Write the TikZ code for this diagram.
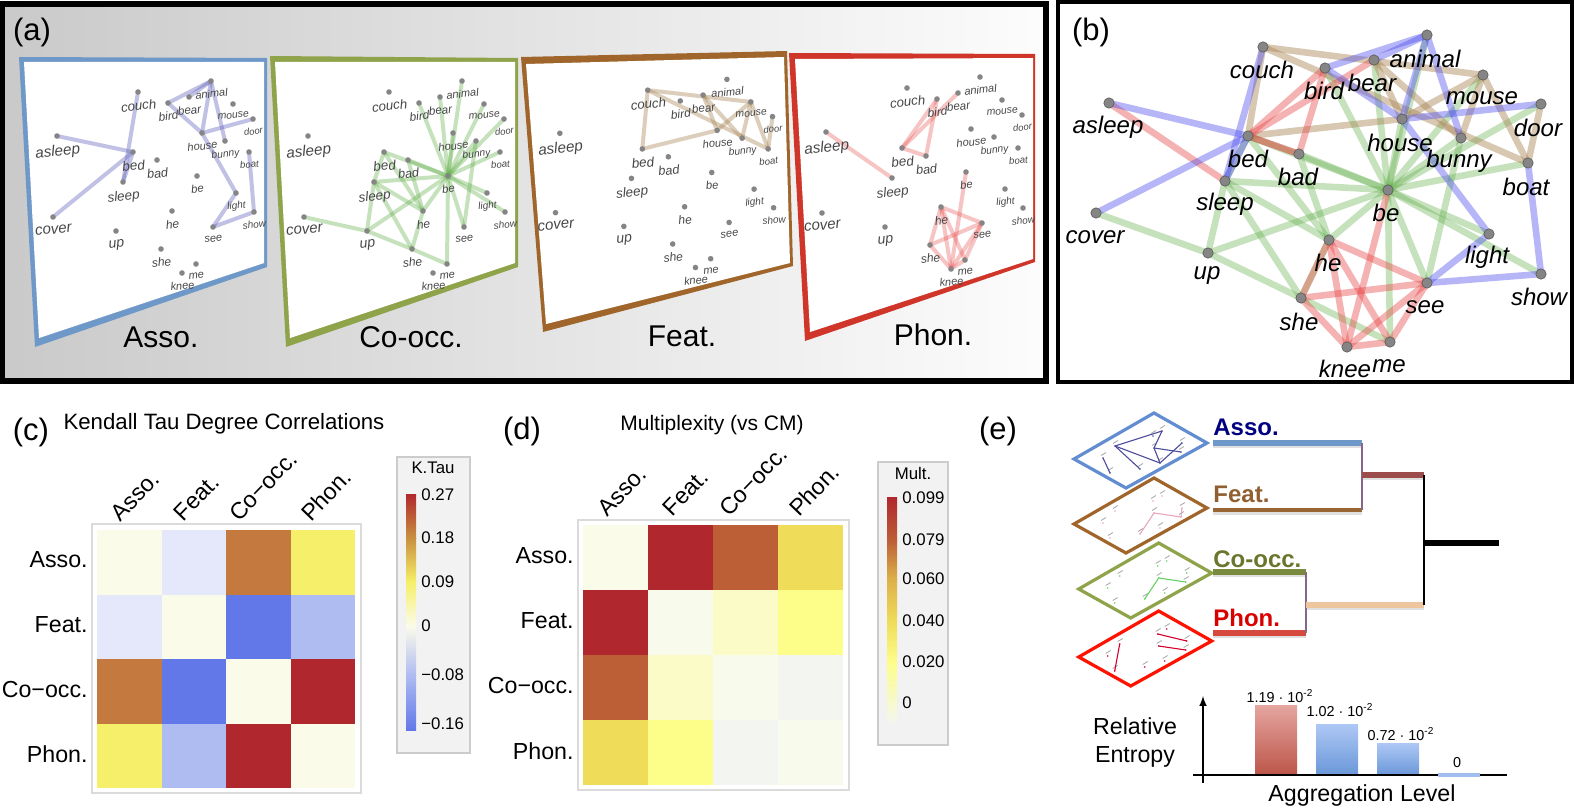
\documentclass[tikz,border=0pt]{standalone}
\usepackage{fontspec}
\setmainfont{Liberation Sans}
\usetikzlibrary{positioning}
\pgfdeclarelayer{panel}
\pgfdeclarelayer{edges}
\pgfsetlayers{panel,edges,main}

\definecolor{cdiag}{HTML}{FBFBEA}
\definecolor{cpale}{HTML}{E4E8FA}
\definecolor{corange}{HTML}{C47A3E}
\definecolor{cyellow}{HTML}{F6EF69}
\definecolor{cblue}{HTML}{6278E8}
\definecolor{csky}{HTML}{AFBCF2}
\definecolor{cred}{HTML}{B0272D}
\definecolor{mrust}{HTML}{BC5E36}
\definecolor{mgold}{HTML}{EFDC58}
\definecolor{mlemon}{HTML}{FDFD8A}
\definecolor{mcream}{HTML}{FBFBC8}
\definecolor{mgrey}{HTML}{F3F6F0}
\definecolor{mdiag}{HTML}{F8FAEC}
\definecolor{mamber}{HTML}{DDB04A}
\definecolor{lamber}{HTML}{C99040}
\definecolor{edgetan}{HTML}{A98656}
\definecolor{edgegreen}{HTML}{62B04A}
\definecolor{edgeblue}{HTML}{5050F0}
\definecolor{edgered}{HTML}{E84848}
\definecolor{edgeslate}{HTML}{6666BE}
\definecolor{framesky}{HTML}{6E98C8}
\definecolor{frameolive}{HTML}{8FA34A}
\definecolor{framebrown}{HTML}{A0652A}
\definecolor{framered}{HTML}{D0352A}
\definecolor{barrose}{HTML}{E5A5A0}
\definecolor{barbrick}{HTML}{BC5548}
\definecolor{barice}{HTML}{AEC8F5}
\definecolor{barsteel}{HTML}{6A97D8}

\tikzset{
  worddot/.style={circle,fill=black!48,inner sep=0pt,minimum size=2.8pt},
  wordtag/.style={text=black!72,inner sep=0pt,rotate=6},
  bigdot/.style={circle,fill=black!48,draw=black!65,line width=.3pt,inner sep=0pt,minimum size=5.2pt},
  bigtag/.style={font=\itshape\fontsize{12}{14}\selectfont,inner sep=0pt},
  assoedge/.style={line width=2pt,draw=edgeslate,opacity=.4},
  cooccedge/.style={line width=2pt,draw=edgegreen,opacity=.36},
  featedge/.style={line width=2pt,draw=edgetan,opacity=.4},
  phonedge/.style={line width=2pt,draw=edgered,opacity=.32},
  bigasso/.style={line width=3.3pt,draw=edgeblue,opacity=.42},
  bigcoocc/.style={line width=3.3pt,draw=edgegreen,opacity=.36},
  bigfeat/.style={line width=3.3pt,draw=edgetan,opacity=.45},
  bigphon/.style={line width=3.3pt,draw=edgered,opacity=.42},
  layername/.style={font=\fontsize{15}{17}\selectfont},
  panelmark/.style={font=\fontsize{15.5}{17}\selectfont},
  axisname/.style={font=\fontsize{11.6}{13}\selectfont},
  ticktag/.style={font=\fontsize{8.4}{10}\selectfont,anchor=west,inner sep=0pt},
  legendbox/.style={fill=black!5,draw=black!20,line width=.6pt},
  plotframe/.style={draw=black!14,line width=.8pt},
  treename/.style={font=\bfseries\fontsize{12}{13}\selectfont,anchor=west,inner sep=0pt},
  treeline/.style={line width=2.9pt},
  treejoin/.style={line width=1.1pt,draw=violet!45!black!60},
  treeshadow/.style={line width=2.6pt,draw=black!12},
  barnum/.style={font=\fontsize{7.2}{8}\selectfont,inner sep=0pt},
  miniword/.style={line width=.45pt,opacity=.45},
}

\newcommand{\assolist}{asleep/bed,cover/bed,couch/sleep,bed/sleep,bird/animal,bear/animal,animal/bunny,animal/house,bird/house,house/door,house/light,light/see,see/show,show/boat}
\newcommand{\featlist}{couch/bed,couch/mouse,couch/boat,bear/house,bear/bunny,mouse/house,mouse/bunny,mouse/boat,door/boat,bed/house}
\newcommand{\phonlist}{asleep/sleep,bed/bird,bed/bear,bird/bad,bed/bad,be/knee,he/see,he/she,he/knee,he/me,she/see,she/knee,see/knee,see/me,knee/me}
\newcommand{\coocclist}{cover/up,up/sleep,up/be,up/she,she/me,she/sleep,she/he,sleep/bed,sleep/be,sleep/he,bed/be,bed/he,bad/be,bad/he,he/be,be/bird,be/bear,be/animal,be/mouse,be/door,be/house,be/bunny,be/boat,be/light,be/show,be/see,be/me,see/bunny}

\newcommand{\wordlayer}[2]{
  \begin{scope}[#2]
    \foreach \w/\wx/\wy/\wf in {asleep/57/136/7.6,couch/138/92/6.6,bird/168/103/5.9,bear/189/97/5.8,animal/211/81/5.5,mouse/233/104/5.2,door/253/119/4.7,house/202/133/5.5,bunny/225/141/5.1,boat/249/152/4.8,bed/133/152/6.7,bad/157/160/6.3,sleep/123/182/6.7,be/197/176/5.6,cover/53/217/7.5,up/116/231/7,he/172/211/6,light/236/193/5,show/254/212/5,see/213/227/5.5,she/161/249/6,knee/182/273/5.5,me/196/264/5.5}{
      \node[worddot] (#1\w) at (\wx,\wy) {};
      \node[wordtag,font=\itshape\fontsize{\wf}{\wf}\selectfont,below=2.6pt of #1\w] (#1\w tag) {\w};
    }
  \end{scope}
}

\newcommand{\miniplate}[6]{
  \begin{scope}[shift={(#2,#3)}]
    \draw[#4,line width=1.6pt,line join=miter] (1154,413) -- (1207,443) -- (1126,488) -- (1074,459) -- cycle;
    \foreach \m/\mx/\my in {b/1115/446,c/1103/458,d/1110/473,e/1140/469,f/1160/463,g/1154/448,h/1182/443,i/1181/452,j/1153/436,a/1162/431}{
      \node[circle,fill=#5,inner sep=0pt,minimum size=.9pt] (#1\m) at (\mx,\my) {};
      \draw[miniword,draw=black!70] ([shift={(-2,-2.5)}]#1\m.center) -- ++(5,-3);
    }
    \foreach \p/\q in {#6}
      \draw[#5,line width=.55pt] (#1\p.center) -- (#1\q.center);
  \end{scope}
}

\begin{document}
\begin{tikzpicture}[x=.5pt,y=-.5pt]
  \useasboundingbox (0,0) rectangle (1575,808);

  \begin{pgfonlayer}{panel}
    \shade[left color=black!21,right color=black!1] (2,4) rectangle (1046,381);
    \fill[white] (1058,2) rectangle (1572,382);
    \fill[framesky] (19,57) -- (267,58) -- (267,267) -- (35,347) -- cycle;
    \fill[white] (24,62) -- (264,62) -- (264,263) -- (39,338) -- cycle;
    \fill[frameolive] (270,56) -- (518,58) -- (518,267) -- (286,347) -- cycle;
    \fill[white] (275,62) -- (515,62) -- (515,263) -- (290,338) -- cycle;
    \fill[framebrown] (521,57) -- (787,51) -- (793,266) -- (543,332) -- cycle;
    \fill[white] (526,64) -- (784,57) -- (790,263) -- (546,324) -- cycle;
    \fill[framered] (789,53) -- (1035,54) -- (1035,262) -- (805,341) -- cycle;
    \fill[white] (795,59) -- (1033,58) -- (1033,259) -- (810,332) -- cycle;
  \end{pgfonlayer}
  \draw[line width=2.6pt] (2,4) rectangle (1046,381);
  \draw[line width=2.2pt] (1058,2) rectangle (1572,382);

  \wordlayer{A}{}
  \wordlayer{C}{shift={(251,0)}}
  \wordlayer{F}{shift={(498,0)},xscale=1.085,yscale=.98}
  \wordlayer{P}{shift={(769,-4)}}

  \begin{pgfonlayer}{edges}
    \foreach \p/\q in \assolist \draw[assoedge] (A\p.center) -- (A\q.center);
    \foreach \p/\q in \coocclist \draw[cooccedge] (C\p.center) -- (C\q.center);
    \foreach \p/\q in \featlist \draw[featedge] (F\p.center) -- (F\q.center);
    \foreach \p/\q in \phonlist \draw[phonedge] (P\p.center) -- (P\q.center);
  \end{pgfonlayer}

  \node[panelmark] (marka) at (32,32) {(a)};
  \node[panelmark] (markb) at (1091,32) {(b)};
  \node[layername] (assoname) at (161,337) {Asso.};
  \node[layername] (cooccname) at (411,337) {Co-occ.};
  \node[layername] (featname) at (682,336) {Feat.};
  \node[layername] (phonname) at (933,335) {Phon.};

  \foreach \w/\wx/\wy/\lx/\ly in {asleep/1109/103/1108/127,couch/1263/47/1262/70,bird/1325/68/1324/91,bear/1374/60/1372/83,animal/1427/35/1425/59,mouse/1483/75/1482/98,door/1541/104/1538/128,house/1402/119/1400/143,bunny/1461/138/1459/161,boat/1528/163/1526/187,bed/1248/136/1248/159,bad/1299/154/1298/177,sleep/1225/181/1225/204,be/1388/190/1386/213,cover/1096/213/1095/237,up/1208/253/1207/276,he/1329/240/1328/263,light/1489/234/1487/257,show/1541/274/1539/297,see/1427/283/1425/307,she/1301/298/1299/322,knee/1347/347/1345/369,me/1390/342/1389/366}{
    \node[bigdot] (b\w) at (\wx,\wy) {};
    \node[bigtag] (b\w tag) at (\lx,\ly) {\w};
  }
  \begin{pgfonlayer}{edges}
    \foreach \p/\q in \coocclist \draw[bigcoocc] (b\p.center) -- (b\q.center);
    \foreach \p/\q in \featlist \draw[bigfeat] (b\p.center) -- (b\q.center);
    \draw[bigfeat] (bbed.center) -- (bbad.center);
    \foreach \p/\q in \phonlist \draw[bigphon] (b\p.center) -- (b\q.center);
    \foreach \p/\q in \assolist \draw[bigasso] (b\p.center) -- (b\q.center);
  \end{pgfonlayer}

  \node[panelmark] (markc) at (31,432) {(c)};
  \node[font=\fontsize{11.1}{13}\selectfont] (titlec) at (224,424) {Kendall Tau Degree Correlations};
  \draw[plotframe] (92,524) rectangle (361,793);
  \foreach \i/\j/\cellc in {0/0/cdiag,0/1/cpale,0/2/corange,0/3/cyellow,1/0/cpale,1/1/cdiag,1/2/cblue,1/3/csky,2/0/corange,2/1/cblue,2/2/cdiag,2/3/cred,3/0/cyellow,3/1/csky,3/2/cred,3/3/cdiag}
    \fill[\cellc] ({97+64.5*\j},{530+64.5*\i}) rectangle +(64.5,64.5);
  \foreach \t/\ty in {Asso./560,Feat./625,Co−occ./690,Phon./754}
    \node[axisname,anchor=east,inner sep=0pt] at (88,\ty) {\t};
  \foreach \t/\tx in {Asso./115,Feat./178,Co−occ./233,Phon./305}
    \node[axisname,anchor=west,inner sep=0pt,rotate=46] at (\tx,517) {\t};
  \draw[legendbox] (397,457) rectangle (470,753);
  \node[font=\fontsize{8.4}{10}\selectfont] (legendc) at (433,468) {K.Tau};
  \foreach \ya/\yb/\ca/\cb in {494/538/cred/lamber,538/582/lamber/cyellow,582/626/cyellow/cdiag,626/675/cdiag/csky,675/730/csky/cblue}
    \shade[top color=\ca,bottom color=\cb] (406,\ya) rectangle (416,\yb);
  \foreach \t/\ty in {0.27/495,0.18/538,0.09/582,0/626,−0.08/675,−0.16/724}
    \node[ticktag] at (421,\ty) {\t};

  \node[panelmark] (markd) at (522,431) {(d)};
  \node[font=\fontsize{10.5}{12}\selectfont] (titled) at (712,425) {Multiplexity (vs CM)};
  \draw[plotframe] (578,520) rectangle (849,790);
  \foreach \i/\j/\cellc in {0/0/cdiag,0/1/cred,0/2/mrust,0/3/mgold,1/0/cred,1/1/mdiag,1/2/mcream,1/3/mlemon,2/0/mrust,2/1/mcream,2/2/mdiag,2/3/mgrey,3/0/mgold,3/1/mlemon,3/2/mgrey,3/3/mdiag}
    \fill[\cellc] ({583+65*\j},{525+65*\i}) rectangle +(65,65);
  \foreach \t/\ty in {Asso./556,Feat./621,Co−occ./686,Phon./751}
    \node[axisname,anchor=east,inner sep=0pt] at (574,\ty) {\t};
  \foreach \t/\tx in {Asso./602,Feat./667,Co−occ./723,Phon./793}
    \node[axisname,anchor=west,inner sep=0pt,rotate=46] at (\tx,512) {\t};
  \draw[legendbox] (878,462) rectangle (948,745);
  \node[font=\fontsize{8.4}{10}\selectfont] (legendd) at (913,473) {Mult.};
  \foreach \ya/\yb/\ca/\cb in {497/540/cred/mrust,540/579/mrust/mamber,579/621/mamber/mgold,621/662/mgold/mlemon,662/723/mlemon/mgrey}
    \shade[top color=\ca,bottom color=\cb] (887,\ya) rectangle (897,\yb);
  \foreach \t/\ty in {0.099/498,0.079/540,0.060/579,0.040/621,0.020/662,0/703}
    \node[ticktag] at (902,\ty) {\t};

  \node[panelmark] (marke) at (998,431) {(e)};
  \miniplate{ma}{0}{0}{cyan!45!blue!65!white}{blue!45!black!70}{b/a,b/f,b/e,c/d,a/g,g/f,f/h,g/i}
  \miniplate{mf}{0}{65}{framebrown}{purple!35!white}{e/g,g/i,i/h}
  \miniplate{mc}{4.7}{130}{frameolive}{green!70!black!60}{e/g,g/i}
  \miniplate{mp}{4.7}{198}{red!85!orange}{purple!70!red}{b/d,j/h,g/i}

  \node[treename,text=blue!50!black] (treeasso) at (1213,427) {Asso.};
  \node[treename,text=brown!75!black] (treefeat) at (1213,494) {Feat.};
  \node[treename,text=olive!70!green!70!black] (treecoocc) at (1213,559) {Co-occ.};
  \node[treename,text=red!85!black] (treephon) at (1213,618) {Phon.};
  \coordinate (assoa) at (1213,443);
  \coordinate (assob) at (1362,443);
  \coordinate (feata) at (1213,510);
  \coordinate (featb) at (1362,510);
  \coordinate (cooca) at (1213,572);
  \coordinate (coocb) at (1306,572);
  \coordinate (phona) at (1213,633);
  \coordinate (phonb) at (1306,633);
  \coordinate (uppera) at (1362,475);
  \coordinate (upperb) at (1424,475);
  \coordinate (lowera) at (1306,605);
  \coordinate (lowerb) at (1424,605);
  \coordinate (roota) at (1424,543);
  \coordinate (rootb) at (1499,543);
  \foreach \a/\b in {assoa/assob,feata/featb,cooca/coocb,phona/phonb,uppera/upperb,lowera/lowerb}
    \draw[treeshadow] ([yshift=-1pt]\a) -- ([yshift=-1pt]\b);
  \draw[treeline,draw=framesky] (assoa) -- (assob);
  \draw[line width=2pt,draw=brown!80!black] (feata) -- (featb);
  \draw[treeline,draw=frameolive!85!black] (cooca) -- (coocb);
  \draw[treeline,draw=framered!90!white] (phona) -- (phonb);
  \draw[treejoin] (assob) -- (featb);
  \draw[treejoin] (coocb) -- (phonb);
  \draw[treeline,draw=red!45!black!70] (uppera) -- (upperb);
  \draw[treeline,draw=orange!40!brown!45] (lowera) -- (lowerb);
  \draw[line width=1.3pt] (upperb) -- (lowerb);
  \draw[line width=2.6pt] (roota) -- (rootb);

  \shade[top color=barrose,bottom color=barbrick] (1255,705) rectangle (1297,775);
  \shade[top color=barice,bottom color=barsteel] (1316,724) rectangle (1358,775);
  \shade[top color=barice,bottom color=barsteel] (1377,743) rectangle (1419,775);
  \coordinate (axisleft) at (1193,775);
  \coordinate (axisright) at (1507,775);
  \coordinate (axisfoot) at (1203,783);
  \coordinate (axishead) at (1203,696);
  \draw[line width=1.2pt] (axisleft) -- (axisright);
  \draw[line width=.7pt,-latex] (axisfoot) -- (axishead);
  \fill[barice!80!barsteel] (1438,773) rectangle (1480,777);
  \node[barnum] (numa) at (1280,696) {1.19 · 10\textsuperscript{-2}};
  \node[barnum] (numb) at (1340,710) {1.02 · 10\textsuperscript{-2}};
  \node[barnum] (numc) at (1401,734) {0.72 · 10\textsuperscript{-2}};
  \node[barnum] (numd) at (1457,763) {0};
  \node[axisname,align=center,inner sep=0pt] (entropy) at (1135,742) {Relative\\[1pt]Entropy};
  \node[axisname,inner sep=0pt] (aggregation) at (1362,795) {Aggregation Level};
\end{tikzpicture}
\end{document}
